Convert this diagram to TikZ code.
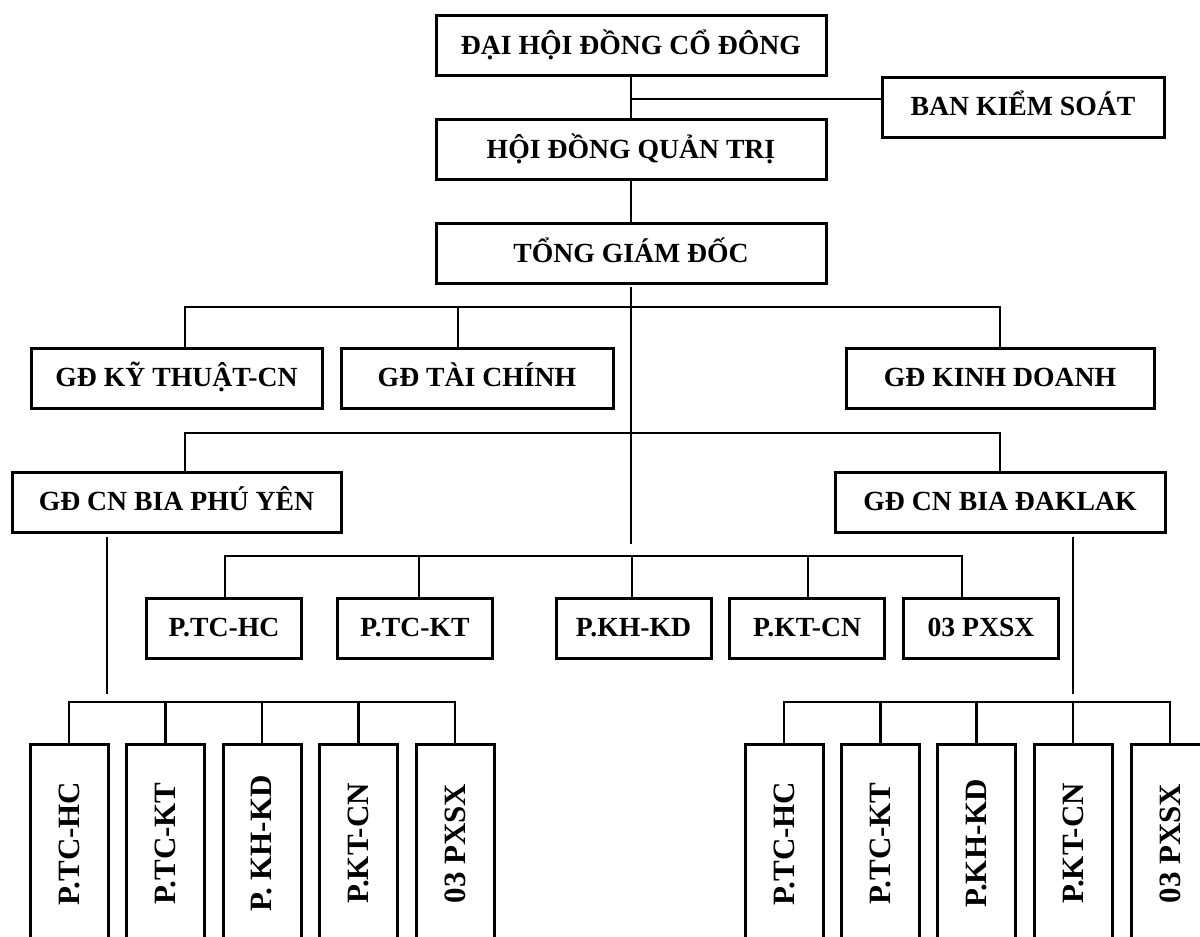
\documentclass[tikz,border=0pt]{standalone}
\usepackage{fontspec}
\setmainfont{Liberation Serif}
\usepackage{graphicx}
\usetikzlibrary{positioning,calc}

\begin{document}
\begin{tikzpicture}[
    x=1pt,y=-1pt,
    box/.style={draw,line width=3pt,minimum height=60pt,inner sep=0pt,
                text height=16pt,text depth=0pt,
                font=\fontsize{27.7}{33}\selectfont\bfseries},
    pbox/.style={box,minimum width=155pt},
    tall/.style={draw,line width=3pt,minimum width=78pt,minimum height=198pt,
                 inner sep=0pt,anchor=north,font=\fontsize{31}{36}\selectfont\bfseries},
    link/.style={line width=2.7pt,line cap=rect},
]
\clip (0,0) rectangle (1200,937);

% ---- board level ----
\node[box,minimum width=390pt,text height=19pt] (dhd) at (631,45) {ĐẠI HỘI ĐỒNG CỔ ĐÔNG};
\node[box,minimum width=282pt] (bks) at (1023,107) {BAN KIỂM SOÁT};
\node[box,minimum width=390pt,text height=18pt] (hdqt) at (631,149) {HỘI ĐỒNG QUẢN TRỊ};
\node[box,minimum width=390pt,text height=18pt] (tgd) at (631,253) {TỔNG GIÁM ĐỐC};

\draw[link] (dhd) -- (hdqt);
\coordinate (j1) at (631,99);
\draw[link] (j1) -- (j1 -| bks.west);
\draw[link] (hdqt) -- (tgd);

% ---- directors ----
\node[box,minimum width=291pt] (gdkt) at (176.5,378) {GĐ KỸ THUẬT-CN};
\node[box,minimum width=272pt] (gdtc) at (477,378) {GĐ TÀI CHÍNH};
\node[box,minimum width=308pt] (gdkd) at (1000,378) {GĐ KINH DOANH};
\node[box,minimum width=329pt] (gdpy) at (176.5,502) {GĐ CN BIA PHÚ YÊN};
\node[box,minimum width=330pt] (gddl) at (1000,502) {GĐ CN BIA ĐAKLAK};

\coordinate (trunk) at (631,543);
\draw[link,shorten <=4pt] (tgd) -- (trunk);

\coordinate (b1w) at (185,307);
\coordinate (b1m) at (458,307);
\coordinate (b1e) at (1000,307);
\draw[link] (b1w) -- (b1e);
\draw[link] (b1w) -- (b1w |- gdkt.north);
\draw[link] (b1m) -- (b1m |- gdtc.north);
\draw[link] (b1e) -- (gdkd);

\coordinate (b2w) at (185,433);
\coordinate (b2e) at (1000,433);
\draw[link] (b2w) -- (b2e);
\draw[link] (b2w) -- (b2w |- gdpy.north);
\draw[link] (b2e) -- (gddl);

% ---- head office departments ----
\node[pbox] (pa) at (224,628) {P.TC-HC};
\node[pbox] (pb) at (415,628) {P.TC-KT};
\node[pbox] (pc) at (633.5,628) {P.KH-KD};
\node[pbox] (pd) at (807,628) {P.KT-CN};
\node[pbox] (pe) at (981,628) {03 PXSX};

\foreach \n/\x in {pa/225,pb/419,pc/632,pd/808,pe/962} {
  \coordinate (t-\n) at (\x,556);
  \draw[link] (t-\n) -- (t-\n |- \n.north);
}
\draw[link] (t-pa) -- (t-pe);

% ---- branch Phu Yen ----
\coordinate (lv) at (107,693);
\draw[link,shorten <=5pt] (gdpy.south -| lv) -- (lv);
\foreach \n/\x/\t in {la1/69/P.TC-HC,la2/165.5/P.TC-KT,la3/262/P. KH-KD,
                      la4/358.5/P.KT-CN,la5/455/03 PXSX} {
  \node[tall] (\n) at (\x,743) {\rotatebox{90}{\t}};
  \coordinate (s-\n) at (\x,702);
  \draw[link] (s-\n) -- (\n.north);
}
\draw[link] (s-la1) -- (s-la5);

% ---- branch Daklak ----
\coordinate (rv) at (1073,693);
\draw[link,shorten <=5pt] (gddl.south -| rv) -- (rv);
\foreach \n/\x/\t in {ra1/784/P.TC-HC,ra2/880.5/P.TC-KT,ra3/976.5/P.KH-KD,
                      ra4/1073/P.KT-CN,ra5/1170/03 PXSX} {
  \node[tall] (\n) at (\x,743) {\rotatebox{90}{\t}};
  \coordinate (s-\n) at (\x,702);
  \draw[link] (s-\n) -- (\n.north);
}
\draw[link] (s-ra1) -- (s-ra5);

\end{tikzpicture}
\end{document}
